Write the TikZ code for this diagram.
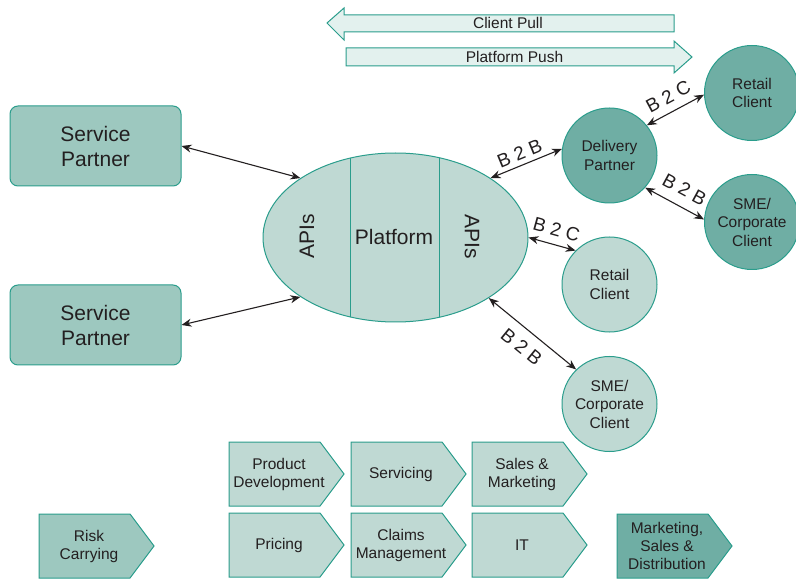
\documentclass[tikz,border=0pt]{standalone}
\usepackage{fontspec}
\setmainfont{Liberation Sans}
\usetikzlibrary{arrows.meta,shapes.geometric}

\definecolor{edgeteal}{HTML}{2A9D8C}
\definecolor{lightfill}{HTML}{BFD9D3}
\definecolor{midfill}{HTML}{9DC8BF}
\definecolor{darkfill}{HTML}{6FAEA4}
\definecolor{pushfill}{HTML}{E3F1EE}
\definecolor{inkgray}{HTML}{231F20}

% chevron: left x, top y, node name, fill colour, text
\newcommand\chevbox[5]{%
  \draw[chevline, fill=#4] (#1,#2) -- ++(91,0) -- ++(24,32) -- ++(-24,32) -- ++(-91,0) -- cycle;
  \node[chevtext] (#3) at (#1+50,#2+32) {#5};
}

\begin{document}
\begin{tikzpicture}[x=1pt,y=-1pt,
  every node/.style={text=inkgray},
  partnerbox/.style={draw=edgeteal, line width=1pt, fill=midfill, rounded corners=8pt,
    minimum width=171pt, minimum height=80pt, align=center,
    font=\fontsize{21}{25}\selectfont},
  client/.style={circle, draw=edgeteal, line width=1pt, minimum size=95pt, inner sep=0pt,
    align=center, font=\fontsize{15.5}{18.5}\selectfont},
  link/.style={{Stealth[length=10pt,width=8pt]}-{Stealth[length=10pt,width=8pt]},
    line width=1.1pt, draw=inkgray},
  tag/.style={sloped, inner sep=0pt, font=\fontsize{19}{19}\selectfont},
  chevline/.style={draw=edgeteal, line width=1pt},
  chevtext/.style={align=center, font=\fontsize{15.5}{18}\selectfont},
  bandarrow/.style={draw=edgeteal, line width=1pt, fill=pushfill},
  bandtext/.style={font=\fontsize{15.5}{18}\selectfont}
]
\useasboundingbox (0,0) rectangle (796,580);

% pull / push bands
\draw[bandarrow] (674,15) -- (344,15) -- (344,8) -- (327,23) -- (344,40) -- (344,32) -- (674,32) -- cycle;
\node[bandtext] (pull) at (508,23) {Client Pull};
\draw[bandarrow] (346,48) -- (674,48) -- (674,41) -- (692,57) -- (674,73) -- (674,66) -- (346,66) -- cycle;
\node[bandtext] (push) at (514.5,57) {Platform Push};

% service partners
\node[partnerbox] (sp1) at (95.5,146) {Service\\Partner};
\node[partnerbox] (sp2) at (95.5,325) {Service\\Partner};

% platform
\node[ellipse, draw=edgeteal, line width=1pt, fill=lightfill, minimum width=265pt,
  minimum height=169pt, inner sep=0pt] (platform) at (395.5,237.5) {};
\begin{scope}
  \clip (395.5,237.5) ellipse [x radius=132.5pt, y radius=84.5pt];
  \draw[edgeteal, line width=1pt] (350.7,150) -- (350.7,330) (439.3,150) -- (439.3,330);
\end{scope}
\node[font=\fontsize{21}{25}\selectfont] (platformlabel) at (394,236.5) {Platform};
\node[font=\fontsize{21}{25}\selectfont, rotate=90] (apileft) at (307,236.5) {APIs};
\node[font=\fontsize{21}{25}\selectfont, rotate=-90] (apiright) at (472,236.5) {APIs};

% clients
\node[client, fill=darkfill] (delivery) at (609.5,155.5) {Delivery\\Partner};
\node[client, fill=darkfill] (rtop) at (752,93) {Retail\\Client};
\node[client, fill=darkfill] (smetop) at (752,222) {SME/\\Corporate\\Client};
\node[client, fill=lightfill] (rmid) at (609.5,284.5) {Retail\\Client};
\node[client, fill=lightfill] (smebot) at (609.5,404) {SME/\\Corporate\\Client};

% connectors
\draw[link] (sp1.east) -- (platform.148);
\draw[link] (sp2.east) -- (platform.212);
\draw[link] (platform.32) -- node[tag, pos=0.47, above=5pt] (t1) {B 2 B} (delivery.172);
\draw[link] (delivery.39) -- node[tag, pos=0.5, above=8pt] (t2) {B 2 C} (rtop.182);
\draw[link] (delivery.318) -- node[tag, pos=0.53, above=10pt] (t3) {B 2 B} (smetop.177);
\draw[link] (platform.0) -- node[tag, pos=0.51, above=8pt] (t4) {B 2 C} (rmid.135);
\draw[link] (platform.327) -- node[tag, pos=0.5, below=10pt] (t5) {B 2 B} (smebot.134);

% value chain
\chevbox{229}{442}{prod}{lightfill}{Product\\Development}
\chevbox{351}{442}{serv}{lightfill}{Servicing}
\chevbox{472}{442}{sales}{lightfill}{Sales \&\\Marketing}
\chevbox{229}{513}{pricing}{lightfill}{Pricing}
\chevbox{351}{513}{claims}{lightfill}{Claims\\Management}
\chevbox{472}{513}{it}{lightfill}{IT}
\chevbox{39}{514}{risk}{midfill}{Risk\\Carrying}
\chevbox{617}{514}{mkt}{darkfill}{Marketing,\\Sales \&\\Distribution}
\end{tikzpicture}
\end{document}
